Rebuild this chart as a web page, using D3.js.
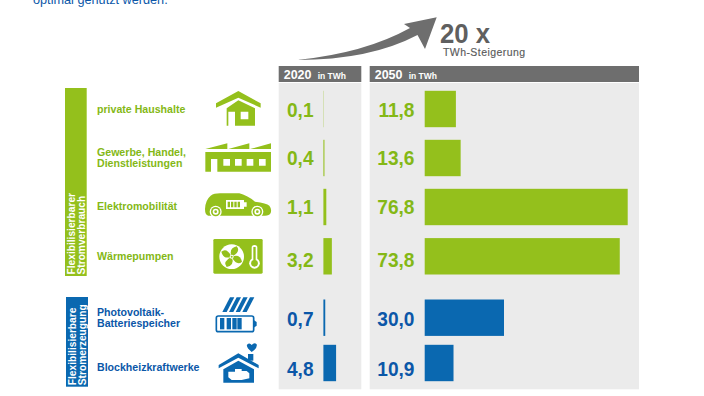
<!DOCTYPE html>
<html>
<head>
<meta charset="utf-8">
<script src="https://cdn.jsdelivr.net/npm/d3@7"></script>
<style>
html, body { margin: 0; padding: 0; background: #fff; overflow: hidden; }
text { font-family: "Liberation Sans", Arial, sans-serif; }
</style>
</head>
<body>
<div id="chart-area"></div>
<script>
// data
var categories = ["private Haushalte", "Gewerbe, Handel, Dienstleistungen", "Elektromobilität", "Wärmepumpen", "Photovoltaik-Batteriespeicher", "Blockheizkraftwerke"];
var labelLines = [["private Haushalte"], ["Gewerbe, Handel,", "Dienstleistungen"], ["Elektromobilität"], ["Wärmepumpen"], ["Photovoltaik-", "Batteriespeicher"], ["Blockheizkraftwerke"]];
var groups = ["verbrauch", "verbrauch", "verbrauch", "verbrauch", "erzeugung", "erzeugung"];
var values2020 = [0.1, 0.4, 1.1, 3.2, 0.7, 4.8];
var values2050 = [11.8, 13.6, 76.8, 73.8, 30.0, 10.9];

var width = 704, height = 396;
var green = "#94c01c", blue = "#0a68b0", gray = "#6e6e6e", panel = "#ebebeb";
var greenText = "#84b816", blueText = "#0b57a8";

var svg = d3.select("#chart-area")
  .append("svg")
    .attr("width", width)
    .attr("height", height)
    .style("display", "block");

// rows are not evenly spaced, there is a gap between the two groups
var rowY = d3.scaleOrdinal().domain(categories).range([109, 158, 207, 256.3, 317.7, 363]);
// the texts do not sit exactly on the bar centres
var valueY = d3.scaleOrdinal().domain(categories).range([109.3, 158, 207, 259.3, 318.7, 368.2]);
var nameY = d3.scaleOrdinal().domain(categories).range([109, 157.5, 206, 256.5, 318, 367]);
var barH = 36.4;
// both panels share the same px per TWh
var x2020 = d3.scaleLinear().domain([0, 76.8]).range([323.4, 526.4]);
var x2050 = d3.scaleLinear().domain([0, 76.8]).range([424.7, 627.7]);
var colour = function(i) { return groups[i] == "verbrauch" ? green : blue; };
var textColour = function(i) { return groups[i] == "verbrauch" ? greenText : blueText; };
var fmt = function(v) { return v.toFixed(1).replace(".", ","); };

// intro line cut off at the top
svg.append("text").attr("x", 33).attr("y", 4)
  .attr("font-size", 12.7).attr("fill", blueText).text("optimal genutzt werden.");

// panels
var panels = [
  {x: 278.7, w: 82.6, year: "2020"},
  {x: 369.7, w: 269.3, year: "2050"}
];
panels.forEach(function(p) {
  svg.append("rect").attr("x", p.x).attr("y", 83).attr("width", p.w).attr("height", 306.3).attr("fill", panel);
  svg.append("rect").attr("x", p.x).attr("y", 66).attr("width", p.w).attr("height", 16).attr("fill", gray);
  svg.append("text").attr("x", p.x + 5).attr("y", 78.5)
    .attr("font-size", 12.5).attr("font-weight", "bold").attr("fill", "#fff").text(p.year);
  svg.append("text").attr("x", p.x + 39).attr("y", 78.5)
    .attr("font-size", 8.5).attr("font-weight", "bold").attr("fill", "#fff").text("in TWh");
});

// arrow
svg.append("path")
  .attr("d", "M297 60 Q365 53 410 28 L404 24 L436.7 17.3 L425 49 L417.5 35 Q370 60 297 60 Z")
  .attr("fill", gray);
svg.append("text").attr("transform", "translate(440,43.3) scale(0.92,1)")
  .attr("font-size", 28).attr("font-weight", "bold").attr("fill", "#5f5f5f").text("20 x");
svg.append("text").attr("x", 443).attr("y", 56)
  .attr("font-size", 10.5).attr("fill", "#5a5a5a").attr("stroke", "#5a5a5a").attr("stroke-width", 0.15)
  .attr("textLength", 82).text("TWh-Steigerung");

// group tabs
var tabs = [
  {x: 65, y: 88, w: 21.7, h: 188, c: green, lines: ["Flexibilisierbarer", "Stromverbrauch"]},
  {x: 66, y: 297, w: 22, h: 89.7, c: blue, lines: ["Flexibilisierbare", "Stromerzeugung"]}
];
tabs.forEach(function(t) {
  svg.append("rect").attr("x", t.x).attr("y", t.y).attr("width", t.w).attr("height", t.h).attr("fill", t.c);
  var tx = svg.append("text")
    .attr("transform", "translate(" + (t.x + 10) + "," + (t.y + t.h - 1.5) + ") rotate(-90)")
    .attr("font-size", 10.2).attr("font-weight", "bold").attr("fill", "#fff");
  t.lines.forEach(function(l, i) {
    tx.append("tspan").attr("x", 0).attr("y", i * 10).text(l);
  });
});

// row labels
categories.forEach(function(c, i) {
  var lines = labelLines[i];
  var tx = svg.append("text").attr("font-size", 10.6).attr("font-weight", "bold").attr("fill", textColour(i));
  lines.forEach(function(l, j) {
    tx.append("tspan").attr("x", 97)
      .attr("y", nameY(c) + 3.5 + (j - (lines.length - 1) / 2) * 11).text(l);
  });
});

// bars and value labels, both panels
function drawBars(cls, vals, x, labelX) {
  svg.selectAll("rect." + cls).data(vals).enter().append("rect")
    .attr("class", cls)
    .attr("x", x(0))
    .attr("y", function(d, i) { return rowY(categories[i]) - barH / 2; })
    .attr("width", function(d) { return Math.max(x(d) - x(0), 0.5); })
    .attr("height", barH)
    .attr("fill", function(d, i) { return colour(i); })
    .attr("fill-opacity", function(d) { return d < 0.2 ? 0.5 : 1; });
  // numbers are taller and narrower than plain Liberation bold
  svg.selectAll("text." + cls).data(vals).enter().append("text")
    .attr("class", cls)
    .attr("transform", function(d, i) {
      return "translate(" + labelX + "," + (valueY(categories[i]) + 7.4) + ") scale(0.91,1)";
    })
    .attr("text-anchor", "end")
    .attr("font-size", 21).attr("font-weight", "bold")
    .attr("fill", function(d, i) { return textColour(i); })
    .text(fmt);
}
drawBars("b2020", values2020, x2020, 313.5);
drawBars("b2050", values2050, x2050, 414.5);

// icons, drawn in crop coordinates at 3x and scaled down
function icon(ox, oy) {
  return svg.append("g").attr("transform", "translate(" + ox + "," + oy + ") scale(" + (1 / 3) + ")");
}
function shape(g, d, fill) {
  return g.append("path").attr("d", d).attr("fill", fill).attr("fill-rule", "evenodd");
}

var top1 = icon(200, 85);
// house
shape(top1, "M115 18 L182 55 L182 68 L115 38 L48 68 L48 55 Z", green);
shape(top1, "M115 46 L165 70 L165 122 L80 122 L80 70 Z M85 80 L105 80 L105 122 L85 122 Z M122 80 L145 80 L145 103 L122 103 Z", green);
// factory
shape(top1, "M16 192 L82 175 L82 192 Z M85 192 L148 175 L148 192 Z M150 192 L213 175 L213 192 Z", green);
shape(top1, "M16 201 L213 201 L213 260 L52 260 L52 222 L33 222 L33 260 L16 260 Z M70 222 L90 222 L90 242 L70 242 Z M105 222 L125 222 L125 242 L105 242 Z M140 222 L160 222 L160 242 L140 242 Z M177 222 L197 222 L197 242 L177 242 Z", green);

var mid = icon(200, 185);
// car
shape(mid, "M15 72 Q16 45 32 32 Q42 25 60 25 L118 25 Q140 30 165 50 Q200 54 208 62 Q216 72 212 84 Q208 92 195 92 L25 92 Q15 90 15 72 Z", green);
[47, 172].forEach(function(cx) {
  mid.append("circle").attr("cx", cx).attr("cy", 80).attr("r", 18).attr("fill", "#fff");
  mid.append("circle").attr("cx", cx).attr("cy", 80).attr("r", 14).attr("fill", green);
  mid.append("circle").attr("cx", cx).attr("cy", 80).attr("r", 9).attr("fill", "#fff");
  mid.append("circle").attr("cx", cx).attr("cy", 80).attr("r", 4).attr("fill", green);
});
shape(mid, "M78 45 L132 45 L132 52 L140 52 L140 65 L132 65 L132 72 L78 72 Z", "#fff");
shape(mid, "M83 50 L90 50 L90 67 L83 67 Z M93 50 L100 50 L100 67 L93 67 Z M103 50 L110 50 L110 67 L103 67 Z M113 50 L120 50 L120 67 L113 67 Z", green);
// heat pump box
mid.append("rect").attr("x", 40).attr("y", 162).attr("width", 148).attr("height", 104).attr("rx", 4).attr("fill", green);
mid.append("circle").attr("cx", 95).attr("cy", 215).attr("r", 37).attr("fill", "#fff");
[0, 90, 180, 270].forEach(function(a) {
  shape(mid, "M95 215 Q85 190 110 184 Q124 200 95 215 Z", green)
    .attr("transform", "rotate(" + a + " 95 215)");
});
mid.append("circle").attr("cx", 95).attr("cy", 215).attr("r", 6).attr("fill", "#fff");
mid.append("circle").attr("cx", 95).attr("cy", 215).attr("r", 3).attr("fill", green);
mid.append("rect").attr("x", 155).attr("y", 180).attr("width", 17).attr("height", 50).attr("rx", 8).attr("fill", "#fff");
mid.append("circle").attr("cx", 163.5).attr("cy", 235).attr("r", 16).attr("fill", "#fff");
mid.append("circle").attr("cx", 163.5).attr("cy", 235).attr("r", 10).attr("fill", green);
mid.append("rect").attr("x", 160).attr("y", 186).attr("width", 7).attr("height", 45).attr("fill", green);

var low = icon(200, 290);
// solar strips
[0, 1, 2, 3].forEach(function(i) {
  var s = i * 20;
  shape(low, "M" + (67 + s) + " 66 L" + (90 + s) + " 22 L" + (103 + s) + " 22 L" + (80 + s) + " 66 Z", blue);
});
// battery
low.append("rect").attr("x", 49).attr("y", 78).attr("width", 112).attr("height", 47).attr("rx", 6)
  .attr("fill", "#fff").attr("stroke", blue).attr("stroke-width", 5);
shape(low, "M161 90 L170 96 L170 107 L161 113 Z", blue);
[60, 80, 97, 112].forEach(function(cx) {
  low.append("rect").attr("x", cx).attr("y", 84).attr("width", 13).attr("height", 34).attr("fill", blue);
});
// cogeneration house
shape(low, "M144 192 L160 192 L160 212 L144 212 Z", blue);
shape(low, "M155 186 Q138 172 141 164 Q149 156 155 165 Q163 156 170 163 Q173 174 155 186 Z", blue);
shape(low, "M115 190 L176 225 L176 235 L115 203 L56 235 L56 225 Z", blue);
shape(low, "M115 212 L162 238 L162 278 L70 278 L70 238 Z", blue);
shape(low, "M85 245 L105 245 L105 237 L125 237 L125 243 L140 243 L148 250 L148 265 L125 270 L95 270 L85 262 Z", "#fff");
</script>
</body>
</html>
